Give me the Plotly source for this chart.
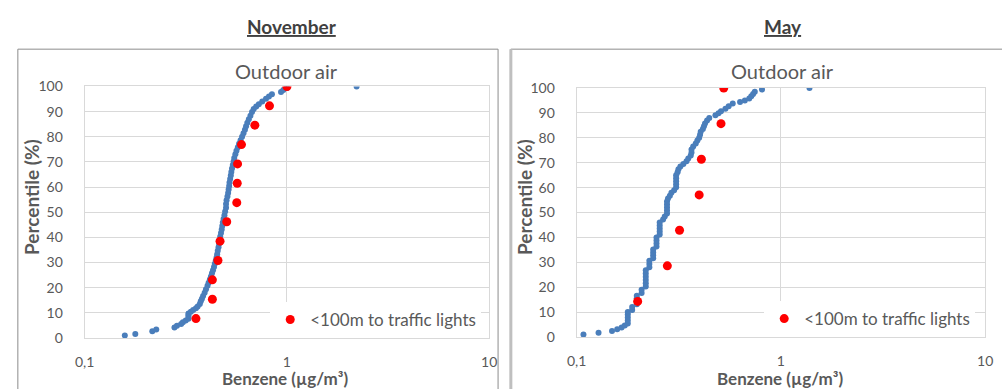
import plotly.graph_objects as go

# Benzene concentrations (µg/m³) and cumulative percentile (%) - November, outdoor air
nov_benzene = [0.158, 0.178, 0.216, 0.226, 0.278, 0.286, 0.300, 0.306, 0.316, 0.326,
               0.326, 0.326, 0.326, 0.335, 0.344, 0.355, 0.362, 0.371, 0.375, 0.380,
               0.385, 0.392, 0.398, 0.405, 0.410, 0.416, 0.421, 0.426, 0.431, 0.436,
               0.440, 0.445, 0.449, 0.452, 0.455, 0.459, 0.462, 0.464, 0.468, 0.472,
               0.476, 0.479, 0.482, 0.486, 0.491, 0.495, 0.500, 0.500, 0.503, 0.508,
               0.512, 0.515, 0.518, 0.520, 0.524, 0.528, 0.531, 0.535, 0.540, 0.545,
               0.549, 0.556, 0.563, 0.572, 0.580, 0.590, 0.600, 0.610, 0.620, 0.628,
               0.637, 0.648, 0.660, 0.672, 0.685, 0.705, 0.726, 0.755, 0.788, 0.815,
               0.843, 0.935, 0.960, 1.000, 2.21]
nov_pct = [1.0, 1.6, 2.7, 3.4, 4.2, 4.9, 5.6, 6.2, 6.9, 7.6,
           8.3, 9.0, 9.7, 10.4, 11.1, 11.8, 12.5, 13.5, 14.6, 15.6,
           16.7, 18.0, 19.4, 20.8, 22.0, 23.2, 24.4, 25.7, 26.9, 28.2,
           29.5, 30.8, 32.0, 33.3, 34.7, 36.1, 37.5, 38.9, 40.3, 41.7,
           43.1, 44.5, 45.9, 47.3, 48.8, 50.3, 51.8, 53.3, 54.8, 56.2,
           57.6, 59.0, 60.4, 61.8, 63.2, 64.6, 66.0, 67.4, 68.8, 70.2,
           71.6, 73.0, 74.4, 75.8, 77.2, 78.6, 80.0, 81.4, 82.8, 84.2,
           85.6, 87.0, 88.4, 89.8, 91.0, 92.0, 92.9, 94.0, 95.1, 96.0,
           96.9, 97.8, 98.6, 99.4, 100.0]

# Sites less than 100 m from traffic lights - November
nov_tl_benzene = [0.355, 0.428, 0.428, 0.456, 0.467, 0.504, 0.565, 0.568, 0.570,
                  0.596, 0.694, 0.820, 1.000]
nov_tl_pct = [7.7, 15.4, 23.1, 30.8, 38.5, 46.2, 53.8, 61.5, 69.2,
              76.9, 84.6, 92.3, 100.0]

# May, outdoor air
may_benzene = [0.108, 0.128, 0.149, 0.158, 0.166, 0.172, 0.178, 0.178, 0.178, 0.178,
               0.178, 0.187, 0.187, 0.197, 0.197, 0.197, 0.197, 0.208, 0.208, 0.218,
               0.218, 0.218, 0.218, 0.218, 0.218, 0.227, 0.227, 0.227, 0.237, 0.237,
               0.237, 0.237, 0.246, 0.246, 0.246, 0.246, 0.255, 0.255, 0.255, 0.255,
               0.255, 0.265, 0.270, 0.277, 0.277, 0.277, 0.277, 0.277, 0.280, 0.286,
               0.291, 0.300, 0.307, 0.307, 0.307, 0.307, 0.307, 0.312, 0.315, 0.322,
               0.333, 0.345, 0.352, 0.362, 0.365, 0.365, 0.372, 0.383, 0.390, 0.398,
               0.402, 0.405, 0.415, 0.420, 0.425, 0.435, 0.446, 0.478, 0.495, 0.509,
               0.535, 0.555, 0.581, 0.631, 0.666, 0.700, 0.716, 0.731, 0.745, 0.808,
               1.38]
may_pct = [1.0, 1.7, 2.4, 3.1, 3.8, 4.6, 5.4, 6.6, 7.8, 9.0,
           10.0, 10.9, 12.1, 13.2, 14.4, 15.6, 16.6, 17.7, 19.0, 20.3,
           21.6, 22.9, 24.2, 25.5, 26.8, 28.0, 29.3, 30.6, 31.6, 32.8,
           34.0, 35.2, 36.4, 37.6, 38.8, 40.0, 41.2, 42.4, 43.6, 44.8,
           46.0, 47.2, 48.4, 49.6, 50.8, 52.0, 53.2, 54.4, 55.6, 56.8,
           58.0, 59.0, 60.2, 61.4, 62.6, 63.8, 65.0, 66.2, 67.4, 68.5,
           69.5, 70.6, 71.7, 72.9, 74.1, 75.3, 76.5, 77.7, 78.9, 80.1,
           81.3, 82.5, 83.6, 84.7, 85.8, 87.0, 88.0, 89.1, 89.9, 90.7,
           91.7, 92.7, 93.8, 94.4, 95.0, 95.8, 96.7, 97.6, 98.5, 99.4,
           100.0]

# Sites less than 100 m from traffic lights - May
may_tl_benzene = [0.199, 0.278, 0.319, 0.398, 0.408, 0.509, 0.525]
may_tl_pct = [14.3, 28.6, 42.9, 57.1, 71.4, 85.7, 100.0]

x_tickvals = [0.1, 1, 10]
x_ticktext = ["0,1", "1", "10"]
y_tickvals = [0, 10, 20, 30, 40, 50, 60, 70, 80, 90, 100]

W, H = 1002, 389
FONT = "Lato"
GREY_TXT = "#595959"
GRID = "#d9d9d9"
BLUE = "#4a7ebb"
RED = "#ff0000"


def px(x):
    return x / W


def py(y):
    return (H - y) / H


fig = go.Figure()

fig.add_trace(go.Scatter(x=nov_benzene, y=nov_pct, mode="markers",
                         marker=dict(color=BLUE, size=6), showlegend=False,
                         xaxis="x", yaxis="y"))
fig.add_trace(go.Scatter(x=nov_tl_benzene, y=nov_tl_pct, mode="markers",
                         marker=dict(color=RED, size=9),
                         name="<100m to traffic lights", legend="legend",
                         xaxis="x", yaxis="y"))
fig.add_trace(go.Scatter(x=may_benzene, y=may_pct, mode="markers",
                         marker=dict(color=BLUE, size=6), showlegend=False,
                         xaxis="x2", yaxis="y2"))
fig.add_trace(go.Scatter(x=may_tl_benzene, y=may_tl_pct, mode="markers",
                         marker=dict(color=RED, size=9),
                         name="<100m to traffic lights", legend="legend2",
                         xaxis="x2", yaxis="y2"))

xcommon = dict(type="log", range=[-1, 1], tickvals=x_tickvals, ticktext=x_ticktext,
               showgrid=True, gridcolor=GRID, gridwidth=1, showline=True,
               linecolor=GRID, mirror=True, zeroline=False, ticks="",
               ticklabelstandoff=11,
               tickfont=dict(family=FONT, size=14, color=GREY_TXT))
ycommon = dict(range=[0, 100], tickvals=y_tickvals, showgrid=True, gridcolor=GRID,
               gridwidth=1, showline=True, linecolor=GRID, mirror=True,
               zeroline=False, ticks="outside", ticklen=16,
               tickcolor="rgba(0,0,0,0)", ticklabelstandoff=2,
               tickfont=dict(family=FONT, size=14, color=GREY_TXT))

legcommon = dict(bgcolor="white", borderwidth=0,
                 font=dict(family=FONT, size=17, color=GREY_TXT),
                 itemsizing="trace", xanchor="left", yanchor="bottom",
                 tracegroupgap=0, itemwidth=30)

fig.update_layout(
    width=W, height=H,
    margin=dict(l=0, r=0, t=0, b=0),
    paper_bgcolor="white", plot_bgcolor="white",
    xaxis=dict(domain=[px(76), px(488)], anchor="y", **xcommon),
    yaxis=dict(domain=[py(344), py(81)], anchor="x", **ycommon),
    xaxis2=dict(domain=[px(577), px(993)], anchor="y2", **xcommon),
    yaxis2=dict(domain=[py(343), py(82.7)], anchor="x2", **ycommon),
    legend=dict(x=px(265), y=py(344), **legcommon),
    legend2=dict(x=px(768), y=py(343), **legcommon),
)

# Panel frames
fig.add_shape(type="rect", xref="paper", yref="paper",
              x0=px(8), x1=px(497), y0=-0.2, y1=py(42),
              line=dict(color="#8c8c8c", width=1), layer="below")
fig.add_shape(type="rect", xref="paper", yref="paper",
              x0=px(510), x1=1.05, y0=-0.2, y1=py(42),
              line=dict(color="#8c8c8c", width=1), layer="below")
fig.add_shape(type="line", xref="paper", yref="paper",
              x0=px(510), x1=px(510), y0=-0.2, y1=py(42),
              line=dict(color="#bfbfbf", width=3), layer="below")

annos = [
    dict(text="<b><u>November</u></b>", x=px(287), y=py(18), size=19, color="#404040"),
    dict(text="<b><u>May</u></b>", x=px(787), y=py(18), size=19, color="#404040"),
    dict(text="Outdoor air", x=px(282), y=py(65), size=20, color=GREY_TXT),
    dict(text="Outdoor air", x=px(787), y=py(65), size=20, color=GREY_TXT),
    dict(text="<b>Benzene (µg/m³)</b>", x=px(280), y=py(386), size=17, color=GREY_TXT),
    dict(text="<b>Benzene (µg/m³)</b>", x=px(784), y=py(386), size=17, color=GREY_TXT),
]
for a in annos:
    fig.add_annotation(text=a["text"], x=a["x"], y=a["y"], xref="paper", yref="paper",
                       xanchor="center", yanchor="middle", showarrow=False,
                       font=dict(family=FONT, size=a["size"], color=a["color"]))

for xc in (22, 524):
    fig.add_annotation(text="<b>Percentile (%)</b>", x=px(xc), y=py(197),
                       xref="paper", yref="paper", xanchor="center", yanchor="middle",
                       showarrow=False, textangle=-90,
                       font=dict(family=FONT, size=19, color=GREY_TXT))

fig.write_html("out.html", post_script="document.body.style.margin='0';")
